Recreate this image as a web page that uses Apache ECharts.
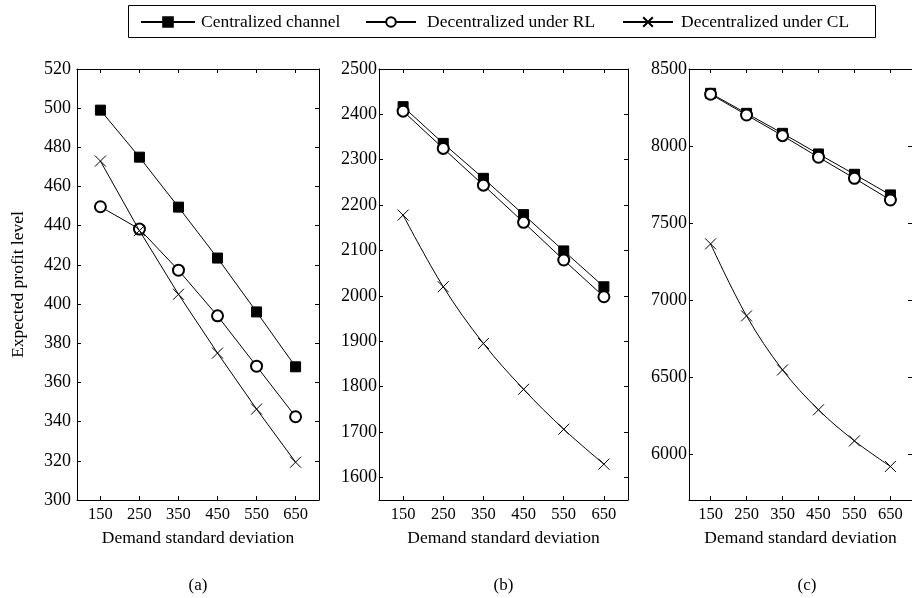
<!DOCTYPE html>
<html>
<head>
<meta charset="utf-8">
<script src="https://cdn.jsdelivr.net/npm/echarts@6/dist/echarts.min.js"></script>
<style>html,body{margin:0;padding:0;background:#fff}#c{width:912px;height:598px}</style>
</head>
<body>
<div id="c"></div>
<script>
const seriesNames = ['Centralized channel', 'Decentralized under RL', 'Decentralized under CL'];
const xValues = [150, 250, 350, 450, 550, 650];
const xTicks = [150, 250, 350, 450, 550, 650];
const aYTicks = [300, 320, 340, 360, 380, 400, 420, 440, 460, 480, 500, 520];
const bYTicks = [1600, 1700, 1800, 1900, 2000, 2100, 2200, 2300, 2400, 2500];
const cYTicks = [6000, 6500, 7000, 7500, 8000, 8500];
const aCentral = [499, 475, 449.5, 423.5, 396, 368];
const aRL = [449.7, 438.3, 417.3, 394, 368.3, 342.5];
const aCL = [473, 437.5, 405, 375, 346.4, 319.3];
const bCentral = [2417, 2336, 2259, 2179, 2099, 2020];
const bRL = [2407, 2325, 2244, 2162, 2079, 1998];
const bCL = [2178, 2020, 1895, 1794, 1706, 1629];
const cCentral = [8342, 8212, 8082, 7948, 7816, 7682];
const cRL = [8336, 8201, 8067, 7927, 7790, 7649];
const cCL = [7364, 6896, 6545, 6286, 6084, 5918];
const panelLabels = ['(a)', '(b)', '(c)'];
const yName = 'Expected profit level';
const xName = 'Demand standard deviation';

const FONT = 'Liberation Serif';
const panels = [
  {left: 77, width: 242, yMin: 300, yMax: 520, yTicks: aYTicks, data: [aCentral, aRL, aCL], labelMargin: 6, smoothCL: false},
  {left: 379, width: 249, yMin: 1550, yMax: 2500, yTicks: bYTicks, data: [bCentral, bRL, bCL], labelMargin: 2, smoothCL: true},
  {left: 689, width: 236, yMin: 5700, yMax: 8500, yTicks: cYTicks, data: [cCentral, cRL, cCL], labelMargin: 2, smoothCL: true}
];
const TOP = 69, HEIGHT = 431;
const axisLine = {show: true, lineStyle: {color: '#000', width: 1}};
const crossPath = 'path://M0,0L10,10M10,0L0,10';
const symbols = ['rect', 'emptyCircle', crossPath];
const sizes = [10, 11, 11];
const plain = v => String(v);

const grid = [], xAxis = [], yAxis = [], series = [], graphic = [];
panels.forEach((p, i) => {
  grid.push({left: p.left, top: TOP, width: p.width, height: HEIGHT});
  xAxis.push({
    type: 'value', gridIndex: i, position: 'bottom', min: 90, max: 710,
    axisLine, splitLine: {show: false},
    axisTick: {inside: true, length: 4, customValues: xTicks, lineStyle: {color: '#000'}},
    axisLabel: {customValues: xTicks, formatter: plain, color: '#000', fontFamily: FONT, fontSize: 16.5, margin: 6},
    name: xName, nameLocation: 'middle', nameGap: 29,
    nameTextStyle: {color: '#000', fontFamily: FONT, fontSize: 17.5}
  });
  xAxis.push({
    type: 'value', gridIndex: i, position: 'top', min: 90, max: 710,
    axisLine, splitLine: {show: false},
    axisTick: {inside: true, length: 4, customValues: xTicks, lineStyle: {color: '#000'}},
    axisLabel: {show: false}
  });
  const yl = {
    type: 'value', gridIndex: i, position: 'left', min: p.yMin, max: p.yMax,
    axisLine, splitLine: {show: false},
    axisTick: {inside: true, length: 4, customValues: p.yTicks, lineStyle: {color: '#000'}},
    axisLabel: {customValues: p.yTicks, formatter: plain, color: '#000', fontFamily: FONT, fontSize: 18, margin: p.labelMargin}
  };
  if (i === 0) {
    yl.name = yName; yl.nameLocation = 'middle'; yl.nameGap = 50;
    yl.nameTextStyle = {color: '#000', fontFamily: FONT, fontSize: 17.5};
  }
  yAxis.push(yl);
  yAxis.push({
    type: 'value', gridIndex: i, position: 'right', min: p.yMin, max: p.yMax,
    axisLine, splitLine: {show: false},
    axisTick: {inside: true, length: 4, customValues: p.yTicks, lineStyle: {color: '#000'}},
    axisLabel: {show: false}
  });
  p.data.forEach((vals, k) => {
    series.push({
      type: 'line', name: seriesNames[k], xAxisIndex: 2 * i, yAxisIndex: 2 * i,
      data: xValues.map((x, j) => [x, vals[j]]),
      symbol: symbols[k], symbolSize: sizes[k], symbolKeepAspect: true,
      smooth: (k === 2 && p.smoothCL) ? 0.35 : false,
      lineStyle: {color: '#000', width: 1},
      itemStyle: {color: '#000', borderColor: '#000', borderWidth: 1},
      emphasis: {disabled: true}, z: 2 + k
    });
  });
  graphic.push({
    type: 'text', x: p.left + p.width / 2, y: 586,
    style: {text: panelLabels[i], fill: '#000', font: '17px "' + FONT + '"', textAlign: 'center', textVerticalAlign: 'middle'}
  });
});
graphic.push({type: 'rect', shape: {x: 128.5, y: 5.5, width: 747, height: 32}, style: {fill: 'none', stroke: '#000', lineWidth: 1}, z: -1});

const legendBase = {top: 13, padding: 0, itemHeight: 12, textStyle: {color: '#000', fontFamily: FONT, fontSize: 17.5}, selectedMode: false};
const legend = [
  Object.assign({}, legendBase, {left: 140, itemWidth: 54, data: [seriesNames[0]], textStyle: Object.assign({}, legendBase.textStyle, {padding: [0, 0, 0, 1]})}),
  Object.assign({}, legendBase, {left: 365, itemWidth: 50, data: [seriesNames[1]], textStyle: Object.assign({}, legendBase.textStyle, {padding: [0, 0, 0, 6]})}),
  Object.assign({}, legendBase, {left: 622, itemWidth: 50, data: [seriesNames[2]], textStyle: Object.assign({}, legendBase.textStyle, {padding: [0, 0, 0, 3]})})
];

const chart = echarts.init(document.getElementById('c'));
chart.setOption({animation: false, backgroundColor: '#fff', grid, xAxis, yAxis, series, legend, graphic});
</script>
</body>
</html>
